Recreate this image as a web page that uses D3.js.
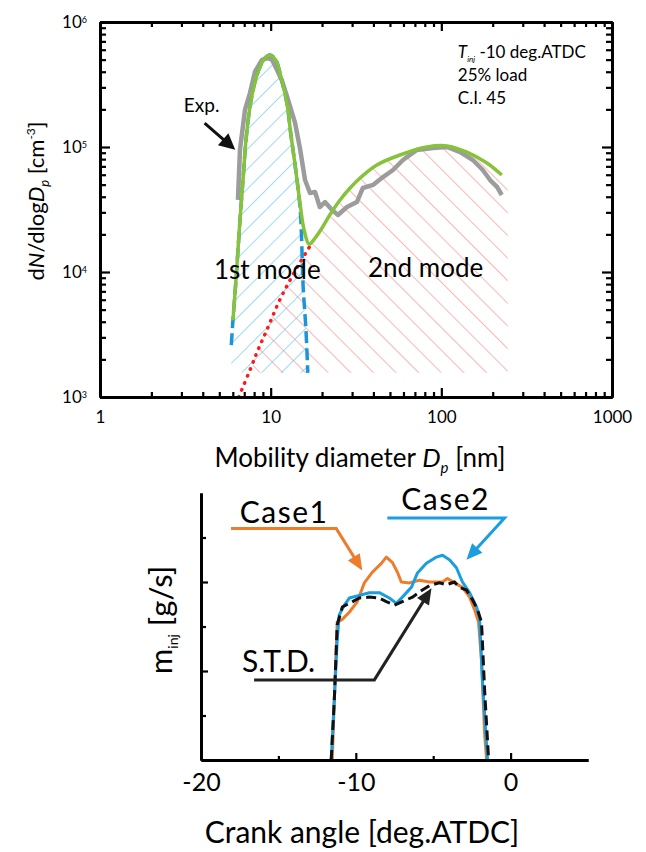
<!DOCTYPE html>
<html>
<head>
<meta charset="utf-8">
<title>Particle size distribution and injection rate</title>
<script src="https://cdn.jsdelivr.net/npm/d3@7"></script>
<style>
  body { margin: 0; background: #fff; }
  svg text { font-family: Lato, "Open Sans", sans-serif; fill: #000; }
  .axis path, .axis line { stroke: #000; }
</style>
</head>
<body>
<svg id="chart" width="646" height="852"></svg>
<script>
// ---------- data: particle size distribution (Dp [nm], dN/dlogDp [cm^-3]) ----------
var expData = [
  [6.43, 3.77e4], [6.61, 9.5e4], [7.07, 1.98e5], [7.56, 2.7e5], [8.09, 4.0e5], [8.89, 4.97e5],
  [9.64, 5.15e5], [10.2, 4.97e5], [10.9, 4.13e5], [11.6, 3.44e5], [12.5, 2.51e5], [13.9, 1.56e5],
  [14.9, 9.5e4], [15.9, 5.44e4], [17.0, 4.29e4], [18.2, 4.37e4], [19.4, 3.31e4], [20.8, 3.63e4],
  [22.9, 3.13e4], [24.8, 2.86e4], [28.0, 3.31e4], [32.0, 3.63e4], [34.7, 4.7e4], [39.8, 4.97e4],
  [45.5, 5.75e4], [52.1, 6.55e4], [59.6, 7.87e4], [71.9, 9.46e4], [89.3, 9.8e4], [108, 1.0e5],
  [129, 9.1e4], [153, 7.87e4], [175, 6.55e4], [193, 5.44e4], [212, 4.79e4], [226, 4.13e4]
];
var fitData = [
  [6.01, 4.1e3], [6.26, 8.6e3], [6.61, 2.6e4], [6.88, 5.4e4], [7.17, 1.14e5], [7.56, 2.09e5],
  [8.09, 3.31e5], [8.65, 4.37e5], [9.26, 5.15e5], [9.91, 5.45e5], [10.7, 4.97e5], [11.6, 3.44e5],
  [12.5, 2.17e5], [13.1, 1.29e5], [13.9, 7.18e4], [14.9, 3.44e4], [15.7, 2.17e4], [16.8, 1.67e4],
  [18.2, 1.87e4], [20.0, 2.25e4], [22.2, 2.86e4], [25.5, 3.77e4], [29.2, 4.7e4], [33.4, 5.65e4],
  [41.9, 7.18e4], [57.2, 8.63e4], [82.3, 1.0e5], [108, 1.02e5], [141, 9.1e4], [185, 7.45e4], [226, 5.97e4]
];
var mode1Data = [
  [5.88, 2.6e3], [6.01, 4.1e3], [6.26, 8.6e3], [6.61, 2.6e4], [6.88, 5.4e4], [7.17, 1.14e5],
  [7.56, 2.09e5], [8.09, 3.31e5], [8.65, 4.37e5], [9.26, 5.15e5], [9.91, 5.45e5], [10.7, 4.97e5],
  [11.6, 3.44e5], [12.5, 2.17e5], [13.1, 1.29e5], [13.9, 7.18e4], [14.9, 3.13e4], [15.5, 7.6e3],
  [16.1, 3.44e3], [16.5, 1.56e3]
];
var mode2Data = [
  [6.5, 1.0e3], [7.56, 1.64e3], [8.43, 2.38e3], [9.5, 3.44e3], [11.3, 5.97e3], [13.0, 8.63e3],
  [14.9, 1.2e4], [17.0, 1.61e4], [18.2, 1.87e4], [20.0, 2.25e4], [22.2, 2.86e4], [25.5, 3.77e4],
  [29.2, 4.7e4], [33.4, 5.65e4], [41.9, 7.18e4], [57.2, 8.63e4], [82.3, 1.0e5], [108, 1.02e5],
  [141, 9.1e4], [185, 7.45e4], [226, 5.97e4], [245, 5.2e4]
];
var hatchFloor = 1.56e3;
var psdTickLabels = ["1", "10", "100", "1000"];

// ---------- data: injection rate (crank angle [deg.ATDC], m_inj [g/s]) ----------
var case1Data = [
  [-11.52, 0], [-11.39, 0.67], [-11.2, 1.55], [-10.87, 1.58], [-10.42, 1.66], [-9.9, 1.78],
  [-9.45, 1.99], [-8.93, 2.11], [-8.35, 2.21], [-8.03, 2.28], [-7.64, 2.22], [-7.31, 2.11],
  [-7.06, 2.0], [-6.54, 1.99], [-5.89, 2.02], [-5.24, 2.0], [-4.4, 2.0], [-4.08, 2.04],
  [-3.62, 1.99], [-3.11, 1.94], [-2.65, 1.83], [-2.33, 1.69], [-2.07, 1.55], [-1.88, 1.12],
  [-1.68, 0.3], [-1.55, 0]
];
var case2Data = [
  [-11.59, 0], [-11.39, 0.67], [-11.2, 1.35], [-11.07, 1.63], [-10.74, 1.74], [-10.42, 1.82],
  [-9.77, 1.85], [-9.13, 1.88], [-8.48, 1.88], [-7.83, 1.82], [-7.38, 1.76], [-6.99, 1.83],
  [-6.41, 1.94], [-6.02, 2.1], [-5.44, 2.21], [-4.79, 2.28], [-4.4, 2.3], [-3.95, 2.25],
  [-3.5, 2.16], [-3.11, 2.0], [-2.65, 1.88], [-2.2, 1.72], [-2.01, 1.6], [-1.81, 0.87], [-1.49, 0]
];
var stdData = [
  [-11.59, 0], [-11.39, 0.67], [-11.2, 1.52], [-10.87, 1.72], [-10.42, 1.76], [-9.77, 1.82],
  [-9.13, 1.83], [-8.48, 1.82], [-8.03, 1.78], [-7.51, 1.74], [-6.99, 1.78], [-6.34, 1.83],
  [-5.7, 1.91], [-5.24, 1.96], [-4.6, 1.99], [-4.14, 1.97], [-3.62, 2.0], [-3.3, 1.94],
  [-2.85, 1.91], [-2.46, 1.8], [-2.14, 1.69], [-1.88, 1.55], [-1.68, 0.79], [-1.42, 0]
];
var crankTicks = [-20, -10, 0];
var crankMinor = [-15, -5];

var svg = d3.select("#chart");

function arrowHead(g, p0, p1, len, half, color) {
  var dx = p1[0] - p0[0], dy = p1[1] - p0[1], L = Math.hypot(dx, dy);
  var ux = dx / L, uy = dy / L, bx = p1[0] - ux * len, by = p1[1] - uy * len;
  g.append("path")
    .attr("d", "M" + p1 + "L" + [bx - uy * half, by + ux * half] + "L" + [bx + uy * half, by - ux * half] + "Z")
    .attr("fill", color);
  return [p1[0] - ux * len * 0.8, p1[1] - uy * len * 0.8];
}
function leader(g, pts, color, len, half) {
  var n = pts.length, end = arrowHead(g, pts[n - 2], pts[n - 1], len, half, color);
  g.append("path").attr("d", d3.line()(pts.slice(0, n - 1).concat([end])))
    .attr("fill", "none").attr("stroke", color).attr("stroke-width", 3);
}

// ================= top chart =================
var x = d3.scaleLog().domain([1, 1000]).range([100, 612]);
var y = d3.scaleLog().domain([1e3, 1e6]).range([397, 22]);
var psd = svg.append("g");

var defs = svg.append("defs");
defs.append("pattern").attr("id", "hatchBlue").attr("patternUnits", "userSpaceOnUse")
  .attr("width", 14).attr("height", 14).attr("patternTransform", "rotate(45)")
  .append("line").attr("x1", 0).attr("y1", 0).attr("x2", 0).attr("y2", 14)
  .attr("stroke", "#5bbfee").attr("stroke-width", 1.2);
defs.append("pattern").attr("id", "hatchRed").attr("patternUnits", "userSpaceOnUse")
  .attr("width", 16).attr("height", 16).attr("patternTransform", "rotate(-45)")
  .append("line").attr("x1", 0).attr("y1", 0).attr("x2", 0).attr("y2", 16)
  .attr("stroke", "#ec7f78").attr("stroke-width", 1.1);

var hatchArea = d3.area()
  .x(function(d){ return x(d[0]); })
  .y0(y(hatchFloor))
  .y1(function(d){ return y(Math.max(d[1], hatchFloor)); })
  .curve(d3.curveMonotoneX);
psd.append("path").datum(mode2Data).attr("d", hatchArea).attr("fill", "url(#hatchRed)");
psd.append("path").datum(mode1Data).attr("d", hatchArea).attr("fill", "url(#hatchBlue)");

var psdLine = d3.line()
  .x(function(d){ return x(d[0]); })
  .y(function(d){ return y(d[1]); });

psd.append("path").datum(expData).attr("d", psdLine)
  .attr("fill", "none").attr("stroke", "#9c9c9c").attr("stroke-width", 4.5).attr("stroke-linejoin", "round");
psd.append("path").datum(mode2Data.filter(function(d){ return d[0] <= 17; }))
  .attr("d", psdLine.curve(d3.curveCatmullRom))
  .attr("fill", "none").attr("stroke", "#ff1a1a").attr("stroke-width", 3.5)
  .attr("stroke-linecap", "round").attr("stroke-dasharray", "0.5,7");
psd.append("path").datum(mode1Data).attr("d", psdLine.curve(d3.curveCatmullRom))
  .attr("fill", "none").attr("stroke", "#1b95d8").attr("stroke-width", 3.5).attr("stroke-dasharray", "12,5");
psd.append("path").datum(fitData).attr("d", psdLine.curve(d3.curveCatmullRom))
  .attr("fill", "none").attr("stroke", "#86c23a").attr("stroke-width", 3.5);

// axes
function isDecade(d){ return Math.abs(Math.log10(d) - Math.round(Math.log10(d))) < 1e-9; }
var xMajor = x.ticks().filter(isDecade), xMinor = x.ticks().filter(function(d){ return !isDecade(d); });
var yMajor = y.ticks().filter(isDecade), yMinor = y.ticks().filter(function(d){ return !isDecade(d); });

function styleAxis(g) {
  g.attr("class", "axis");
  g.select(".domain").attr("stroke-width", 3);
  g.selectAll(".tick line").attr("stroke-width", 2.2);
}
[["bottom", 397], ["top", 22]].forEach(function(s) {
  var mk = s[0] === "bottom" ? d3.axisBottom : d3.axisTop;
  psd.append("g").attr("transform", "translate(0," + s[1] + ")")
    .call(mk(x).tickValues(xMinor).tickSize(-5).tickSizeOuter(0).tickFormat("")).call(styleAxis);
  var g = psd.append("g").attr("transform", "translate(0," + s[1] + ")")
    .call(mk(x).tickValues(xMajor).tickSize(-9).tickSizeOuter(0).tickPadding(14)
      .tickFormat(function(d, i){ return s[0] === "bottom" ? psdTickLabels[i] : ""; }))
    .call(styleAxis);
  g.selectAll("text").attr("font-size", 17).attr("font-family", null);
});
[["left", 100], ["right", 612]].forEach(function(s) {
  var mk = s[0] === "left" ? d3.axisLeft : d3.axisRight;
  psd.append("g").attr("transform", "translate(" + s[1] + ",0)")
    .call(mk(y).tickValues(yMinor).tickSize(-6).tickSizeOuter(0).tickFormat("")).call(styleAxis);
  var g = psd.append("g").attr("transform", "translate(" + s[1] + ",0)")
    .call(mk(y).tickValues(yMajor).tickSize(-10).tickSizeOuter(0).tickPadding(13).tickFormat(""))
    .call(styleAxis);
  if (s[0] === "left") {
    g.selectAll(".tick text").each(function(d) {
      var t = d3.select(this).attr("font-size", 17).attr("font-family", null);
      t.append("tspan").text("10");
      t.append("tspan").attr("font-size", 9).attr("dy", "-0.55em").text(Math.round(Math.log10(d)));
    });
  }
});

// titles
psd.append("text").attr("x", 360).attr("y", 467).attr("text-anchor", "middle").attr("font-size", 26)
  .call(function(t) {
    t.append("tspan").text("Mobility diameter ");
    t.append("tspan").attr("font-style", "italic").text("D");
    t.append("tspan").attr("font-style", "italic").attr("font-size", 15).attr("dy", 6).text("p");
    t.append("tspan").attr("dy", -6).text(" [nm]");
  });
psd.append("text").attr("transform", "translate(44,201) rotate(-90)").attr("text-anchor", "middle").attr("font-size", 22)
  .call(function(t) {
    t.append("tspan").text("d");
    t.append("tspan").attr("font-style", "italic").text("N");
    t.append("tspan").text("/dlog");
    t.append("tspan").attr("font-style", "italic").text("D");
    t.append("tspan").attr("font-style", "italic").attr("font-size", 13).attr("dy", 5).text("p");
    t.append("tspan").attr("dy", -5).text(" [cm");
    t.append("tspan").attr("font-size", 12).attr("dy", -9).text("-3");
    t.append("tspan").attr("dy", 9).text("]");
  });

// annotations
var note = psd.append("text").attr("font-size", 17);
note.append("tspan").attr("x", x(125)).attr("y", y(5.15e5)).attr("font-style", "italic").text("T");
note.append("tspan").attr("font-style", "italic").attr("font-size", 8).attr("dy", 4).text("inj");
note.append("tspan").attr("dy", -4).text(" -10 deg.ATDC");
note.append("tspan").attr("x", x(125)).attr("dy", 23).text("25% load");
note.append("tspan").attr("x", x(125)).attr("dy", 23).text("C.I. 45");

psd.append("text").attr("x", x(3.1)).attr("y", y(1.9e5)).attr("font-size", 19).text("Exp.");
leader(psd, [[x(4.1), y(1.55e5)], [x(6.2), y(9.5e4)]], "#111", 16, 8);
psd.append("text").attr("x", x(4.65)).attr("y", y(8.8e3)).attr("font-size", 26).text("1st mode");
psd.append("text").attr("x", x(37.2)).attr("y", y(9.1e3)).attr("font-size", 26).text("2nd mode");

// ================= bottom chart =================
var bx = d3.scaleLinear().domain([-20, 5]).range([201, 588]);
var by = d3.scaleLinear().domain([0, 3]).range([760, 493]);
var bot = svg.append("g");

var rateLine = d3.line()
  .x(function(d){ return bx(d[0]); })
  .y(function(d){ return by(d[1]); });

bot.append("path").datum(case1Data).attr("d", rateLine)
  .attr("fill", "none").attr("stroke", "#ec7d2c").attr("stroke-width", 3).attr("stroke-linejoin", "round");
bot.append("path").datum(case2Data).attr("d", rateLine)
  .attr("fill", "none").attr("stroke", "#1a9ee0").attr("stroke-width", 3).attr("stroke-linejoin", "round");
bot.append("path").datum(stdData).attr("d", rateLine)
  .attr("fill", "none").attr("stroke", "#111").attr("stroke-width", 3).attr("stroke-dasharray", "10,5");

bot.append("g").attr("transform", "translate(0,760)")
  .call(d3.axisBottom(bx).tickValues(crankMinor).tickSize(-4).tickSizeOuter(0).tickFormat(""))
  .call(styleAxis);
var bxAxis = bot.append("g").attr("transform", "translate(0,760)")
  .call(d3.axisBottom(bx).tickValues(crankTicks).tickSize(-7).tickSizeOuter(0).tickPadding(13)
    .tickFormat(function(d){ return String(d); }))
  .call(styleAxis);
bxAxis.selectAll("text").attr("font-size", 25).attr("font-family", null);
bot.append("g").attr("transform", "translate(201,0)")
  .call(d3.axisLeft(by).tickValues([0.5, 1.5, 2.5]).tickSize(-5).tickSizeOuter(0).tickFormat(""))
  .call(styleAxis);
bot.append("g").attr("transform", "translate(201,0)")
  .call(d3.axisLeft(by).tickValues([1, 2]).tickSize(-7).tickSizeOuter(0).tickFormat(""))
  .call(styleAxis);

bot.append("text").attr("x", 362).attr("y", 843).attr("text-anchor", "middle").attr("font-size", 30)
  .text("Crank angle [deg.ATDC]");
bot.append("text").attr("transform", "translate(172,620) rotate(-90)").attr("text-anchor", "middle").attr("font-size", 31)
  .call(function(t) {
    t.append("tspan").text("m");
    t.append("tspan").attr("font-size", 14).attr("dy", 6).text("inj");
    t.append("tspan").attr("dy", -6).text(" [g/s]");
  });

bot.append("text").attr("x", bx(-17.5)).attr("y", by(2.66)).attr("font-size", 30).attr("letter-spacing", 1.5).text("Case1");
leader(bot, [[bx(-18.06), by(2.6)], [bx(-11.26), by(2.6)], [bx(-9.58), by(2.13)]], "#ec7d2c", 16, 7);
bot.append("text").attr("x", bx(-7.06)).attr("y", by(2.81)).attr("font-size", 30).attr("letter-spacing", 1.5).text("Case2");
leader(bot, [[bx(-7.96), by(2.72)], [bx(-0.39), by(2.72)], [bx(-2.85), by(2.25)]], "#1a9ee0", 16, 7);
bot.append("text").attr("x", bx(-17.35)).attr("y", by(0.99)).attr("font-size", 30).text("S.T.D.");
leader(bot, [[bx(-16.57), by(0.9)], [bx(-8.8), by(0.9)], [bx(-5.11), by(1.93)]], "#222", 16, 7);
</script>
</body>
</html>
